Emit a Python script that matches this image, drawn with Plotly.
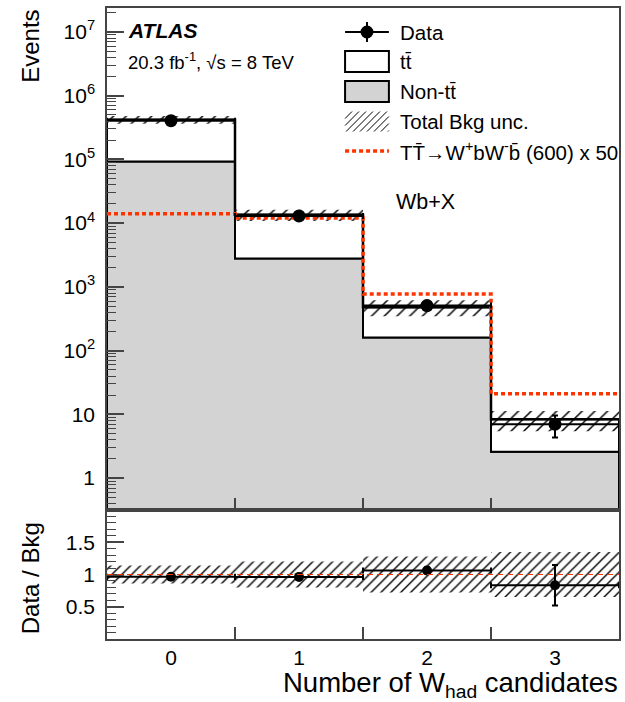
import numpy as np
import plotly.graph_objects as go

# ---------------- data ----------------
bin_centers = [0, 1, 2, 3]
bin_edges = [-0.5, 0.5, 1.5, 2.5, 3.5]
x_ticktext = ["0", "1", "2", "3"]
data_events = [4.05e5, 1.30e4, 510, 7]
non_ttbar = [9.3e4, 2.8e3, 160, 2.6]
total_bkg = [4.2e5, 1.35e4, 480, 8.4]
bkg_rel_unc = [0.14, 0.20, 0.28, 0.35]
signal_x50 = [1.4e4, 1.2e4, 770, 21]

y_tickvals = [1, 10, 1e2, 1e3, 1e4, 1e5, 1e6, 1e7]
y_ticktext = ["1", "10", "10<sup>2</sup>", "10<sup>3</sup>", "10<sup>4</sup>",
              "10<sup>5</sup>", "10<sup>6</sup>", "10<sup>7</sup>"]
ratio_tickvals = [0.5, 1, 1.5]
ratio_ticktext = ["0.5", "1", "1.5"]

FONT = "Liberation Sans, Arial, Helvetica, sans-serif"
GREY = "#d3d3d3"
RED = "#ff3300"
AX = "#444444"

# ---------------- geometry ----------------
W, H = 625, 702
ML, MR, MT, MB = 107, 4, 8, 63
PW, PH = W - ML - MR, H - MT - MB
split_px = 510
ratio_top = (H - MB - split_px) / PH


def px2x(px):
    return (px - ML) / PW


def py2y(py):
    return (H - MB - py) / PH


def steps(vals):
    xs, ys = [], []
    for i, v in enumerate(vals):
        xs += [bin_edges[i], bin_edges[i + 1]]
        ys += [v, v]
    return xs, ys


fig = go.Figure()

# Non-ttbar (grey, stacked bottom)
sx, sy = steps(non_ttbar)
floor = 1e-3
fig.add_trace(go.Scatter(
    x=[bin_edges[0]] + sx + [bin_edges[-1], bin_edges[0]],
    y=[floor] + sy + [floor, floor],
    fill="toself", fillcolor=GREY, mode="lines",
    line=dict(color="black", width=2), showlegend=False, hoverinfo="skip",
    xaxis="x", yaxis="y"))

# ttbar (white, stacked on top)
tx, ty = steps(total_bkg)
fig.add_trace(go.Scatter(
    x=tx + sx[::-1] + [tx[0]],
    y=ty + sy[::-1] + [ty[0]],
    fill="toself", fillcolor="white", mode="lines",
    line=dict(color="black", width=2), showlegend=False, hoverinfo="skip",
    xaxis="x", yaxis="y"))

# Total bkg uncertainty hatch (main)
hx, hy = [], []
for i, (t, u) in enumerate(zip(total_bkg, bkg_rel_unc)):
    lo, hi = t * (1 - u), t * (1 + u)
    a, b = bin_edges[i], bin_edges[i + 1]
    hx += [a, b, b, a, a, None]
    hy += [lo, lo, hi, hi, lo, None]
fig.add_trace(go.Scatter(
    x=hx, y=hy, fill="toself", mode="lines", line=dict(width=0),
    fillcolor="rgba(0,0,0,0)",
    fillpattern=dict(shape="/", fgcolor="black", bgcolor="rgba(0,0,0,0)",
                     size=9, solidity=0.17, fgopacity=1),
    showlegend=False, hoverinfo="skip", xaxis="x", yaxis="y"))

# total bkg line again on top of hatch
fig.add_trace(go.Scatter(
    x=tx, y=ty, mode="lines", line=dict(color="black", width=2.5),
    showlegend=False, hoverinfo="skip", xaxis="x", yaxis="y"))

# Signal x50 (red dotted)
gx, gy = steps(signal_x50)
fig.add_trace(go.Scatter(
    x=gx, y=gy, mode="lines", line=dict(color=RED, width=3.5, dash="4px,3px"),
    showlegend=False, hoverinfo="skip", xaxis="x", yaxis="y"))

# Data
d = np.array(data_events, dtype=float)
derr = np.sqrt(d)
fig.add_trace(go.Scatter(
    x=bin_centers, y=data_events, mode="markers",
    marker=dict(color="black", size=13),
    error_y=dict(type="data", array=derr, color="black", thickness=2, width=3),
    error_x=dict(type="data", array=[0.5] * 4, color="black", thickness=2, width=3),
    showlegend=False, xaxis="x", yaxis="y"))

# ---------------- ratio panel ----------------
tb = np.array(total_bkg, dtype=float)
ratio = d / tb
ratio_err = derr / tb

rx, ry = [], []
for i, u in enumerate(bkg_rel_unc):
    a, b = bin_edges[i], bin_edges[i + 1]
    rx += [a, b, b, a, a, None]
    ry += [1 - u, 1 - u, 1 + u, 1 + u, 1 - u, None]
fig.add_trace(go.Scatter(
    x=rx, y=ry, fill="toself", mode="lines", line=dict(width=0),
    fillcolor="rgba(0,0,0,0)",
    fillpattern=dict(shape="/", fgcolor="black", bgcolor="rgba(0,0,0,0)",
                     size=7, solidity=0.2, fgopacity=1),
    showlegend=False, hoverinfo="skip", xaxis="x2", yaxis="y2"))

fig.add_trace(go.Scatter(
    x=bin_centers, y=ratio, mode="markers",
    marker=dict(color="black", size=10),
    error_y=dict(type="data", array=ratio_err, color="black", thickness=2, width=3),
    error_x=dict(type="data", array=[0.5] * 4, color="black", thickness=2, width=3),
    showlegend=False, xaxis="x2", yaxis="y2"))

# ---------------- axes ----------------
minor_log = [m * 10.0 ** k for k in range(-1, 8) for m in range(2, 10)
             if 0.32 < m * 10.0 ** k < 2.3e7]
minor_ratio = [round(0.1 * i, 1) for i in range(1, 20) if i % 5 != 0]

common = dict(showline=True, linecolor=AX, linewidth=1.5, mirror=True,
              showgrid=False, zeroline=False, tickcolor=AX, tickwidth=1.5,
              tickfont=dict(family=FONT, size=21, color="black"))

fig.update_layout(
    width=W, height=H,
    margin=dict(l=ML, r=MR, t=MT, b=MB),
    paper_bgcolor="white", plot_bgcolor="white",
    font=dict(family=FONT, color="black"),
    showlegend=False,
    xaxis=dict(domain=[0, 1], anchor="y", range=[-0.5, 3.5],
               tickmode="array", tickvals=bin_edges[1:-1], ticks="inside",
               ticklen=12, showticklabels=False, **common),
    yaxis=dict(domain=[ratio_top, 1], anchor="x", type="log",
               range=[-0.5, 7.375], tickmode="array", tickvals=y_tickvals,
               ticktext=y_ticktext, ticks="inside", ticklen=17,
               ticklabelstandoff=6,
               minor=dict(tickmode="array", tickvals=minor_log, ticks="inside",
                          ticklen=9, tickcolor=AX, tickwidth=1.2, showgrid=False),
               **common),
    xaxis2=dict(domain=[0, 1], anchor="y2", range=[-0.5, 3.5],
                tickmode="array", tickvals=bin_centers, ticktext=x_ticktext,
                ticks="", ticklabelstandoff=-1,
                minor=dict(tickmode="array", tickvals=bin_edges[1:-1],
                           ticks="inside", ticklen=12, tickcolor=AX,
                           tickwidth=1.5, showgrid=False),
                **common),
    yaxis2=dict(domain=[0, ratio_top], anchor="x2", range=[0, 2],
                tickmode="array", tickvals=ratio_tickvals, ticktext=ratio_ticktext,
                ticks="inside", ticklen=17, ticklabelstandoff=6,
                minor=dict(tickmode="array", tickvals=minor_ratio, ticks="inside",
                           ticklen=9, tickcolor=AX, tickwidth=1.2, showgrid=False),
                **common),
)

shapes = []
# nominal line at 1 in ratio
shapes.append(dict(type="line", xref="x2 domain", x0=0, x1=1, yref="y2", y0=1, y1=1,
                   line=dict(color=RED, width=1.2, dash="6px,4px"), layer="above"))

# ---------------- legend (manual) ----------------
LX0, LX1 = 346, 390
LXT = 399
legend_rows = [32, 61.5, 91.5, 121.5, 151]
legend_labels = ["Data", "tt\u0304", "Non-tt\u0304", "Total Bkg unc.",
                 "TT\u0304\u2192W<sup>+</sup>bW<sup>-</sup>b\u0304 (600) x 50"]

# Data glyph
yd = legend_rows[0]
shapes.append(dict(type="line", xref="paper", yref="paper", x0=px2x(LX0), x1=px2x(LX1),
                   y0=py2y(yd), y1=py2y(yd), line=dict(color="black", width=2)))
shapes.append(dict(type="line", xref="paper", yref="paper", x0=px2x(368), x1=px2x(368),
                   y0=py2y(yd - 10), y1=py2y(yd + 10), line=dict(color="black", width=2)))
shapes.append(dict(type="circle", xref="paper", yref="paper", x0=px2x(368 - 6.5),
                   x1=px2x(368 + 6.5), y0=py2y(yd + 6.5), y1=py2y(yd - 6.5),
                   fillcolor="black", line=dict(color="black", width=0)))
# ttbar / non-ttbar boxes
for row, fc in [(legend_rows[1], "white"), (legend_rows[2], GREY)]:
    shapes.append(dict(type="rect", xref="paper", yref="paper", x0=px2x(LX0), x1=px2x(LX1),
                       y0=py2y(row + 10.5), y1=py2y(row - 10.5), fillcolor=fc,
                       line=dict(color="black", width=2)))
# hatch glyph
hy0, hy1 = legend_rows[3] + 10, legend_rows[3] - 10
hh = hy0 - hy1
xs = LX0 - hh
while xs < LX1:
    xa, ya, xb, yb = xs, hy0, xs + hh, hy1
    if xa < LX0:
        ya = hy0 - (LX0 - xa)
        xa = LX0
    if xb > LX1:
        yb = hy1 + (xb - LX1)
        xb = LX1
    if xb > xa:
        shapes.append(dict(type="line", xref="paper", yref="paper", x0=px2x(xa), x1=px2x(xb),
                           y0=py2y(ya), y1=py2y(yb), line=dict(color="black", width=1)))
    xs += 7
# signal glyph
shapes.append(dict(type="line", xref="paper", yref="paper", x0=px2x(LX0), x1=px2x(LX1),
                   y0=py2y(legend_rows[4]), y1=py2y(legend_rows[4]),
                   line=dict(color=RED, width=3.5, dash="4px,3px")))

annotations = []
for row, lab in zip(legend_rows, legend_labels):
    annotations.append(dict(xref="paper", yref="paper", x=px2x(LXT), y=py2y(row),
                            xanchor="left", yanchor="middle", showarrow=False, text=lab,
                            font=dict(family=FONT, size=20.5, color="black")))

annotations += [
    dict(xref="paper", yref="paper", x=px2x(126), y=py2y(30), xanchor="left",
         yanchor="middle", showarrow=False, text="<b><i>ATLAS</i></b>",
         font=dict(family=FONT, size=21, color="black")),
    dict(xref="paper", yref="paper", x=px2x(126), y=py2y(61), xanchor="left",
         yanchor="middle", showarrow=False,
         text="20.3 fb<sup>-1</sup>, \u221As = 8 TeV",
         font=dict(family=FONT, size=18.5, color="black")),
    dict(xref="paper", yref="paper", x=px2x(395), y=py2y(202), xanchor="left",
         yanchor="middle", showarrow=False, text="Wb+X",
         font=dict(family=FONT, size=21.5, color="black")),
    dict(xref="paper", yref="paper", x=px2x(30), y=1.0, xanchor="center",
         yanchor="top", showarrow=False, text="Events", textangle=-90,
         font=dict(family=FONT, size=24, color="black")),
    dict(xref="paper", yref="paper", x=px2x(30), y=py2y(578), xanchor="center",
         yanchor="middle", showarrow=False, text="Data / Bkg", textangle=-90,
         font=dict(family=FONT, size=24, color="black")),
    dict(xref="paper", yref="paper", x=1.0, y=py2y(684), xanchor="right",
         yanchor="middle", showarrow=False, borderpad=0,
         text="Number of W<sub>had</sub> candidates",
         font=dict(family=FONT, size=27.5, color="black")),
]

fig.update_layout(shapes=shapes, annotations=annotations)
fig.write_html("out.html")
